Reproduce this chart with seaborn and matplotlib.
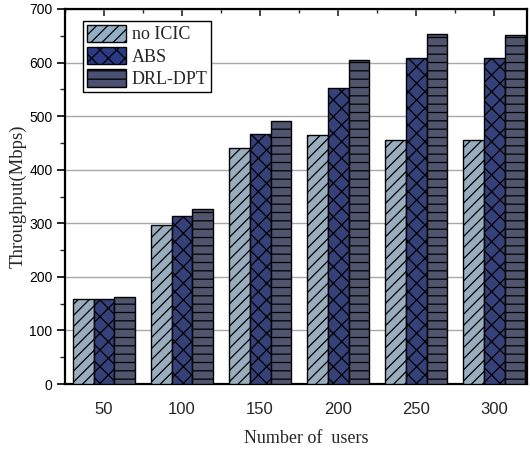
import matplotlib
matplotlib.use("Agg")
import matplotlib.pyplot as plt
from matplotlib.patches import Patch
from matplotlib.ticker import MultipleLocator
import seaborn as sns
import pandas as pd

users = ["50", "100", "150", "200", "250", "300"]
schemes = ["no ICIC", "ABS", "DRL-DPT"]
no_icic = [159, 297, 440, 465, 455, 456]
abs_vals = [159, 314, 467, 553, 609, 609]
drl_dpt = [163, 326, 491, 605, 654, 652]

colors = ["#93aec4", "#2b3a85", "#4b5172"]
hatches = ["///", "xx", "--"]

rows = []
for name, vals in zip(schemes, [no_icic, abs_vals, drl_dpt]):
    for u, v in zip(users, vals):
        rows.append({"users": u, "throughput": v, "scheme": name})
df = pd.DataFrame(rows)

sns.set_style("white")
plt.rcParams["font.family"] = ["Liberation Sans", "DejaVu Sans"]
plt.rcParams["hatch.linewidth"] = 0.9
plt.rcParams["hatch.color"] = "black"

fig = plt.figure(figsize=(5.30, 4.51), dpi=100)
ax = fig.add_axes([65 / 530, 1 - 384 / 451, 462 / 530, 375 / 451])

sns.barplot(data=df, x="users", y="throughput", hue="scheme", order=users,
            hue_order=schemes, palette=colors, edgecolor="black", linewidth=1.0,
            width=0.8, gap=0, legend=False, ax=ax, zorder=3)

for cont, h in zip(ax.containers, hatches):
    for bar in cont:
        bar.set_hatch(h)
        bar.set_edgecolor("black")

ax.set_ylim(0, 700)
ax.set_xlim(-0.5, 5.42)
ax.yaxis.set_major_locator(MultipleLocator(100))
ax.yaxis.set_minor_locator(MultipleLocator(50))
ax.xaxis.set_minor_locator(MultipleLocator(0.5))

ax.grid(axis="y", which="major", color="#a8a8a8", linewidth=1.0, zorder=0)
ax.set_axisbelow(True)

for s in ax.spines.values():
    s.set_visible(True)
    s.set_color("black")
    s.set_linewidth(1.6)

ax.tick_params(axis="y", which="major", left=True, right=True, direction="out",
               length=6, width=1.2, labelsize=10, pad=3, colors="black")
ax.tick_params(axis="y", which="minor", left=True, right=True, direction="out",
               length=3.5, width=1.0)
ax.tick_params(axis="x", which="both", bottom=False, top=True, direction="in",
               labelsize=12, pad=13)
ax.tick_params(axis="x", which="major", length=5, width=1.2)
ax.tick_params(axis="x", which="minor", length=3, width=1.0)
# right ticks inward
for t in ax.yaxis.get_major_ticks() + ax.yaxis.get_minor_ticks():
    t.tick2line.set_marker(matplotlib.lines.TICKLEFT)

ax.set_xlabel("Number of  users", family="Liberation Serif", fontsize=13, labelpad=8)
ax.xaxis.set_label_coords(0.522, -0.123)
ax.set_ylabel("Throughput(Mbps)", family="Liberation Serif", fontsize=13.5, labelpad=2)

handles = [Patch(facecolor=c, edgecolor="black", hatch=h, linewidth=1.0, label=n)
           for c, h, n in zip(colors, hatches, schemes)]
leg = ax.legend(handles=handles, loc="upper left", bbox_to_anchor=(0.039, 0.968),
                prop={"family": "Liberation Serif", "size": 13}, frameon=True,
                fancybox=False, edgecolor="black", framealpha=1,
                handlelength=2.2, handleheight=1.1, labelspacing=0.2,
                handletextpad=0.3, borderpad=0.2, borderaxespad=0)
leg.get_frame().set_linewidth(1.0)

fig.savefig("out.png", dpi=100)
